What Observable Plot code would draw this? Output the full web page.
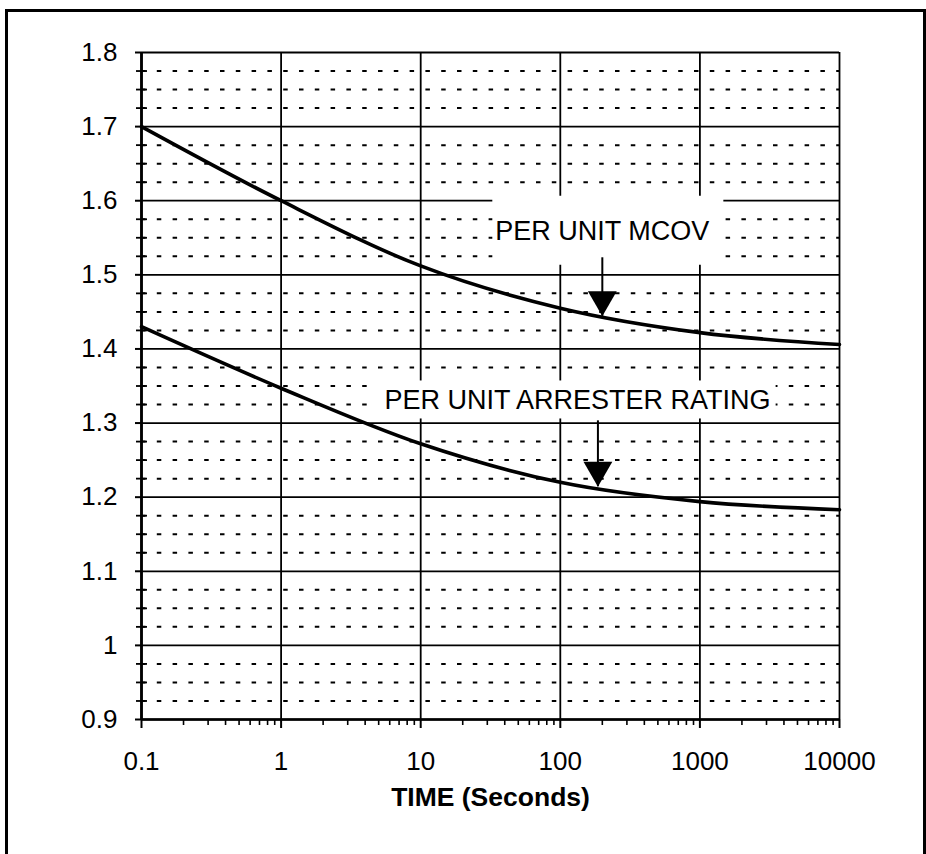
<!DOCTYPE html>
<html>
<head>
<meta charset="utf-8">
<script src="https://cdn.jsdelivr.net/npm/d3@7"></script>
<script src="https://cdn.jsdelivr.net/npm/@observablehq/plot@0.6"></script>
<style>
  body { margin: 0; background: #fff; }
  #wrap { position: relative; width: 926px; height: 854px; overflow: hidden; background: #fff; }
  #frame { position: absolute; left: 5px; top: 9px; width: 921px; height: 870px; border: 3px solid #000; box-sizing: border-box; pointer-events: none; }
</style>
</head>
<body>
<div id="wrap"><div id="chart"></div><div id="frame"></div></div>
<script>
// ---- data ----
const timeSeconds = [0.1, 1, 10, 100, 1000, 10000];
const perUnitMCOV = [1.70, 1.60, 1.512, 1.455, 1.422, 1.406];
const perUnitArresterRating = [1.43, 1.347, 1.272, 1.220, 1.194, 1.183];

const xTickValues = [0.1, 1, 10, 100, 1000, 10000];
const xTickLabels = ["0.1", "1", "10", "100", "1000", "10000"];
const xMinorTicks = [0.2, 0.3, 0.4, 0.5, 0.6, 0.7, 0.8, 0.9,
  2, 3, 4, 5, 6, 7, 8, 9,
  20, 30, 40, 50, 60, 70, 80, 90,
  200, 300, 400, 500, 600, 700, 800, 900,
  2000, 3000, 4000, 5000, 6000, 7000, 8000, 9000];
const yTickValues = [0.9, 1, 1.1, 1.2, 1.3, 1.4, 1.5, 1.6, 1.7, 1.8];
const yTickLabels = ["0.9", "1", "1.1", "1.2", "1.3", "1.4", "1.5", "1.6", "1.7", "1.8"];
const yMinorTicks = [0.925, 0.95, 0.975, 1.025, 1.05, 1.075, 1.125, 1.15, 1.175,
  1.225, 1.25, 1.275, 1.325, 1.35, 1.375, 1.425, 1.45, 1.475,
  1.525, 1.55, 1.575, 1.625, 1.65, 1.675, 1.725, 1.75, 1.775];

const xTitle = "TIME (Seconds)";
const annotationLabels = ["PER UNIT MCOV", "PER UNIT ARRESTER RATING"];
const annotationTime = [200, 133];
const annotationValue = [1.559, 1.33];
const arrowTime = [200, 186];
const arrowFromValue = [1.523, 1.303];
const arrowToValue = [1.444, 1.214];

// ---- layout / style ----
const W = 926, H = 854;
const mL = 141, mR = 87, mT = 52, mB = 135;
const font = "'Liberation Sans', Arial, Helvetica, sans-serif";
// label box paddings [top, right, bottom, left]
const boxPad = [[20, 14, 19, 3], [5, 5, 3, 10]];

const plot = Plot.plot({
  width: W, height: H,
  marginLeft: mL, marginRight: mR, marginTop: mT, marginBottom: mB,
  style: { fontFamily: font, fontSize: "26px", color: "#000", background: "#fff", overflow: "visible" },
  x: { type: "log", domain: [0.1, 10000] },
  y: { domain: [0.9, 1.8] },
  marks: [
    Plot.ruleY(yMinorTicks, { stroke: "#000", strokeWidth: 2, strokeDasharray: "4.5,11.3" }),
    Plot.ruleY(yTickValues, { stroke: "#000", strokeWidth: 1.8 }),
    Plot.ruleX(xTickValues, { stroke: "#000", strokeWidth: 1.8 }),
    Plot.tickY(yMinorTicks, { stroke: "#000", strokeWidth: 1.8, insetRight: (W - mL - mR) - 11, dx: -5 }),
    Plot.axisY(yTickValues, {
      tickSize: 6, tickPadding: 18, strokeWidth: 2, fontSize: 26, label: null,
      tickFormat: d => yTickLabels[yTickValues.indexOf(d)]
    }),
    Plot.axisX(xTickValues, {
      tickSize: 9, tickPadding: 23, strokeWidth: 2, fontSize: 26, label: null,
      tickFormat: d => xTickLabels[xTickValues.indexOf(d)]
    }),
    Plot.axisX(xMinorTicks, { tickSize: 6, strokeWidth: 1.6, label: null, tickFormat: () => "" }),
    Plot.ruleX([0.1], { stroke: "#000", strokeWidth: 2.8 }),
    Plot.ruleY([0.9], { stroke: "#000", strokeWidth: 2.4 }),
    Plot.text([xTitle], { text: d => d, frameAnchor: "bottom", dy: 86, fontWeight: "bold", fontSize: 26.5, fill: "#000" }),
    Plot.text(annotationLabels, { x: annotationTime, y: annotationValue, text: d => d, fontSize: 27, fill: "#000", textAnchor: "middle" }),
    Plot.line(timeSeconds, { x: d => d, y: perUnitMCOV, stroke: "#000", strokeWidth: 3.6, curve: "monotone-x" }),
    Plot.line(timeSeconds, { x: d => d, y: perUnitArresterRating, stroke: "#000", strokeWidth: 3.6, curve: "monotone-x" }),
    Plot.ruleX(arrowTime, { x: d => d, y1: arrowFromValue, y2: arrowToValue, stroke: "#000", strokeWidth: 2 }),
    Plot.dot(arrowTime, { x: d => d, y: arrowToValue, symbol: "triangle", r: 10.7, rotate: 180, fill: "#000", stroke: "none", dy: -16.7 })
  ]
});

document.getElementById("chart").appendChild(plot);

// white boxes behind the annotation labels
d3.select(plot).selectAll("text").each(function () {
  const idx = annotationLabels.indexOf(this.textContent);
  if (idx < 0) return;
  const bb = this.getBBox();
  const [pt, pr, pb, pl] = boxPad[idx];
  const rect = document.createElementNS("http://www.w3.org/2000/svg", "rect");
  rect.setAttribute("x", bb.x - pl);
  rect.setAttribute("y", bb.y - pt);
  rect.setAttribute("width", bb.width + pl + pr);
  rect.setAttribute("height", bb.height + pt + pb);
  rect.setAttribute("fill", "#fff");
  const tr = this.getAttribute("transform");
  if (tr) rect.setAttribute("transform", tr);
  this.parentNode.insertBefore(rect, this);
});
</script>
</body>
</html>
